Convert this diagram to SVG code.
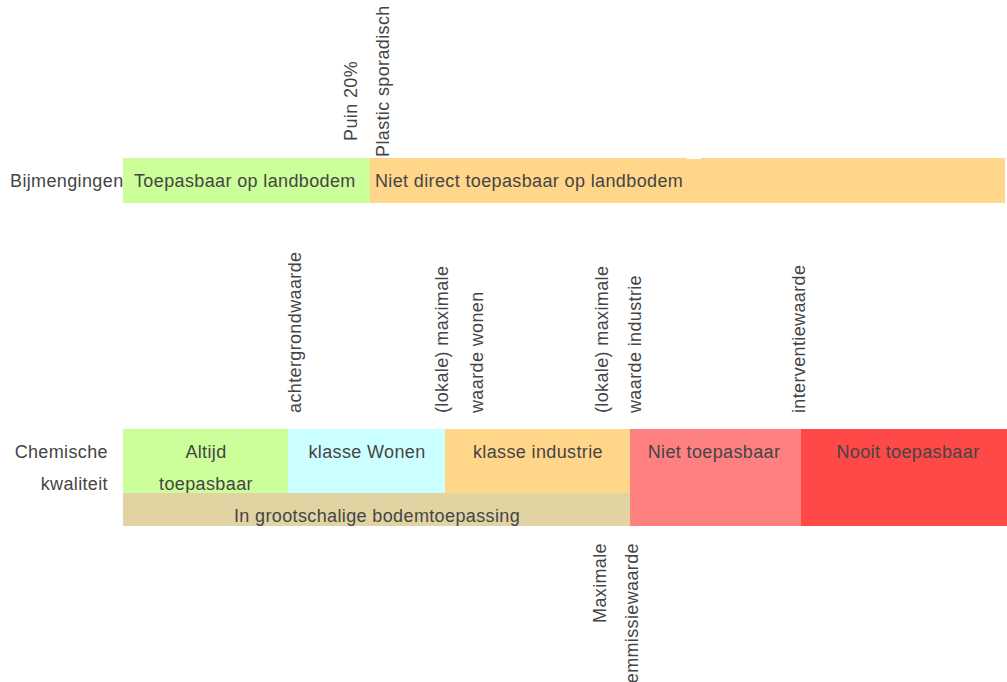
<svg xmlns="http://www.w3.org/2000/svg" width="1007" height="682" viewBox="0 0 1007 682">
<style>
text{font-family:"Liberation Sans",Arial,sans-serif;font-size:18px;letter-spacing:0.37px;fill:#454545}
.c{text-anchor:middle}
.r{text-anchor:end}
</style>
<rect x="0" y="0" width="1007" height="682" fill="#ffffff"/>
<g id="row-bijmengingen">
<text x="10" y="187">Bijmengingen</text>
</g>
<g id="node-toepasbaar-landbodem">
<rect x="123" y="158" width="247" height="45" fill="#CCFF99"/>
<text x="134" y="187">Toepasbaar op landbodem</text>
</g>
<g id="node-niet-direct">
<rect x="370" y="158" width="317" height="45" fill="#FFD68A"/>
<rect x="687" y="159" width="15" height="44" fill="#FFD68A"/>
<rect x="701" y="158" width="304" height="45" fill="#FFD68A"/>
<text x="375" y="187">Niet direct toepasbaar op landbodem</text>
</g>
<g id="label-puin">
<text transform="translate(357,141) rotate(-90)">Puin 20%</text>
</g>
<g id="label-plastic">
<text transform="translate(389,157) rotate(-90)">Plastic sporadisch</text>
</g>
<g id="label-achtergrond">
<text transform="translate(301,413) rotate(-90)">achtergrondwaarde</text>
</g>
<g id="label-max-wonen">
<text transform="translate(448,413) rotate(-90)">(lokale) maximale</text>
<text transform="translate(483,413) rotate(-90)">waarde wonen</text>
</g>
<g id="label-max-industrie">
<text transform="translate(608,413) rotate(-90)">(lokale) maximale</text>
<text transform="translate(641,413) rotate(-90)">waarde industrie</text>
</g>
<g id="label-interventie">
<text transform="translate(805,413) rotate(-90)">interventiewaarde</text>
</g>
<g id="row-chemische">
<text class="r" x="108" y="458">Chemische</text>
<text class="r" x="108" y="490">kwaliteit</text>
</g>
<g id="node-altijd">
<rect x="123" y="429" width="165" height="64" fill="#CCFF99"/>
<text class="c" x="206" y="458">Altijd</text>
<text class="c" x="206" y="490">toepasbaar</text>
</g>
<g id="node-wonen">
<rect x="288" y="429" width="157" height="64" fill="#CCFFFF"/>
<text class="c" x="367" y="458">klasse Wonen</text>
</g>
<g id="node-industrie">
<rect x="445" y="429" width="185" height="64" fill="#FFD68A"/>
<text class="c" x="538" y="458">klasse industrie</text>
</g>
<g id="node-grootschalig">
<rect x="123" y="493" width="507" height="33" fill="#E2D3A3"/>
<text class="c" x="377" y="522">In grootschalige bodemtoepassing</text>
</g>
<g id="node-niet-toepasbaar">
<rect x="630" y="429" width="171" height="97" fill="#FF8080"/>
<text class="c" x="714" y="458">Niet toepasbaar</text>
</g>
<g id="node-nooit">
<rect x="801" y="429" width="206" height="97" fill="#FF4848"/>
<text class="c" x="908" y="458">Nooit toepasbaar</text>
</g>
<g id="label-emissie">
<text class="r" transform="translate(606,543) rotate(-90)">Maximale</text>
<text class="r" transform="translate(638,543) rotate(-90)">emmissiewaarde</text>
</g>
</svg>
